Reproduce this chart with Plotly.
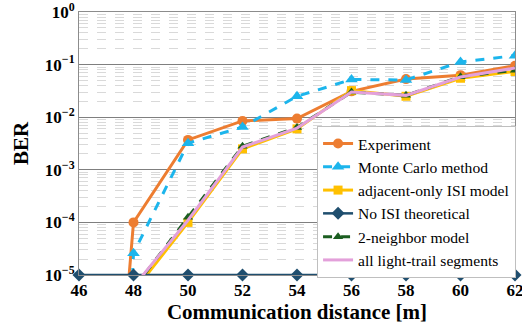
import plotly.graph_objects as go

distance = [46, 48, 50, 52, 54, 56, 58, 60, 62]
experiment = [3e-17, 1.0e-4, 3.7e-3, 8.5e-3, 9.4e-3, 3.1e-2, 5.3e-2, 6.3e-2, 9.5e-2]
monte_carlo = [1e-30, 2.6e-5, 3.2e-3, 6.5e-3, 2.5e-2, 5.2e-2, 5.1e-2, 1.12e-1, 1.48e-1]
adjacent_only = [1e-12, 4.8e-6, 1.0e-4, 2.5e-3, 6.0e-3, 3.2e-2, 2.5e-2, 5.5e-2, 7.4e-2]
no_isi = [1e-5, 1e-5, 1e-5, 1e-5, 1e-5, 1e-5, 1e-5, 1e-5, 1e-5]
two_neighbor = [1e-12, 5.5e-6, 1.25e-4, 2.8e-3, 6.4e-3, 3.0e-2, 2.6e-2, 5.9e-2, 7.8e-2]
all_segments = [1e-12, 6e-6, 1.1e-4, 2.7e-3, 6.2e-3, 3.0e-2, 2.6e-2, 5.8e-2, 8.6e-2]

x_ticks = [46, 48, 50, 52, 54, 56, 58, 60, 62]
y_tickvals = [1e-5, 1e-4, 1e-3, 1e-2, 1e-1, 1]
y_ticktext = ["10<sup>−5</sup>", "10<sup>−4</sup>", "10<sup>−3</sup>", "10<sup>−2</sup>", "10<sup>−1</sup>", "10<sup>0</sup>"]
minor_vals = [m * 10 ** e for e in range(-5, 0) for m in range(2, 10)]

fig = go.Figure()
fig.add_trace(go.Scatter(x=distance, y=experiment, name="Experiment", mode="lines+markers",
                         line=dict(color="#ED7D31", width=3), marker=dict(symbol="circle", size=10, color="#ED7D31")))
fig.add_trace(go.Scatter(x=distance, y=monte_carlo, name="Monte Carlo method", mode="lines+markers",
                         line=dict(color="#1CB5EC", width=3, dash="dash"), marker=dict(symbol="triangle-up", size=11, color="#1CB5EC")))
fig.add_trace(go.Scatter(x=distance, y=adjacent_only, name="adjacent-only ISI model", mode="lines+markers",
                         line=dict(color="#FFC000", width=3), marker=dict(symbol="square", size=9, color="#FFC000")))
fig.add_trace(go.Scatter(x=distance, y=no_isi, name="No ISI theoretical", mode="lines+markers", cliponaxis=False,
                         line=dict(color="#1F4E6E", width=2.5), marker=dict(symbol="diamond", size=10, color="#1F4E6E")))
fig.add_trace(go.Scatter(x=distance, y=two_neighbor, name="2-neighbor model", mode="lines+markers",
                         line=dict(color="#1B5E20", width=3, dash="dash"), marker=dict(symbol="triangle-up", size=9, color="#1B5E20")))
fig.add_trace(go.Scatter(x=distance, y=all_segments, name="all light-trail segments", mode="lines",
                         line=dict(color="#E3A0DA", width=3)))

font_family = "Liberation Serif"
fig.update_layout(
    width=522, height=333,
    margin=dict(l=79, r=7, t=12, b=58, autoexpand=False),
    paper_bgcolor="white", plot_bgcolor="white",
    font=dict(family=font_family, color="#000"),
    showlegend=True,
    legend=dict(x=0.546, y=0.567, xanchor="left", yanchor="top",
                bgcolor="white", bordercolor="#BFBFBF", borderwidth=1,
                font=dict(size=15.6, family=font_family), tracegroupgap=0,
                itemwidth=30),
    xaxis=dict(range=[46, 62], tickvals=x_ticks, showgrid=False, zeroline=False,
               showline=True, linecolor="#8C8C8C", linewidth=1, mirror=True,
               tickfont=dict(size=17, family=font_family, weight="bold"),
               ticklabeloverflow="allow",
               title=dict(text="<b>Communication distance [m]</b>", font=dict(size=21, family=font_family), standoff=4),
               ticks=""),
    yaxis=dict(type="log", range=[-5, 0], tickvals=y_tickvals, ticktext=y_ticktext,
               showgrid=True, gridcolor="#7F7F7F", gridwidth=1, zeroline=False,
               showline=True, linecolor="#8C8C8C", linewidth=1, mirror=True,
               tickfont=dict(size=17, family=font_family, weight="bold"),
               ticklabeloverflow="allow",
               minor=dict(tickvals=minor_vals, showgrid=True, gridcolor="#D9D9D9", griddash="dash", gridwidth=1, ticks=""),
               title=dict(text="<b>BER</b>", font=dict(size=21, family=font_family), standoff=10),
               ticks=""),
)
fig.write_html("out.html")
